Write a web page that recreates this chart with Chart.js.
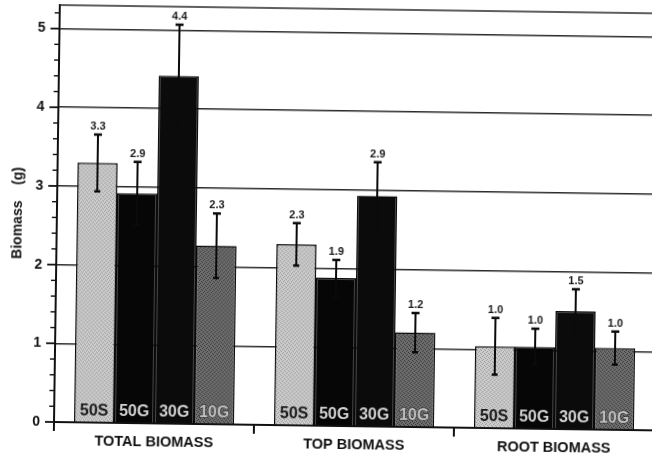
<!DOCTYPE html>
<html>
<head>
<meta charset="utf-8">
<script src="https://cdn.jsdelivr.net/npm/chart.js@4"></script>
<style>
  html, body { margin: 0; padding: 0; background: #fff; }
  #wrap { position: relative; width: 652px; height: 460px; overflow: hidden; background: #fff; }
  #chart { position: absolute; left: 0; top: 0; transform-origin: 54px 422px; transform: rotate(0.8deg); }
</style>
</head>
<body>
<div id="wrap"><canvas id="chart" width="660" height="460"></canvas></div>
<script>
// Biomass groups and treatment series
const categories = ['TOTAL BIOMASS', 'TOP BIOMASS', 'ROOT BIOMASS'];
const seriesNames = ['50S', '50G', '30G', '10G'];

// Mean biomass (g) per treatment, one value per group
const mean50S = [3.3, 2.3, 1.04];
const mean50G = [2.92, 1.88, 1.04];
const mean30G = [4.42, 2.93, 1.5];
const mean10G = [2.27, 1.2, 1.04];

// Half-length of each error bar (g)
const err50S = [0.36, 0.27, 0.36];
const err50G = [0.40, 0.23, 0.23];
const err30G = [0.65, 0.43, 0.28];
const err10G = [0.41, 0.25, 0.21];

// Value axis
const yTickValues = [0, 1, 2, 3, 4, 5];
const yMax = 5.3;
const yMinorStep = 0.2;

const FONT = '"Liberation Sans", Arial, sans-serif';

// Small stippled fill used for the shaded bars
function stipple(base, dot) {
  const c = document.createElement('canvas');
  c.width = 4; c.height = 4;
  const g = c.getContext('2d');
  g.fillStyle = base; g.fillRect(0, 0, 4, 4);
  g.fillStyle = dot;
  g.fillRect(0, 0, 1, 1); g.fillRect(2, 1, 1, 1);
  g.fillRect(1, 2, 1, 1); g.fillRect(3, 3, 1, 1);
  return g.createPattern(c, 'repeat');
}

const fills = [
  stipple('#cdcdcd', '#9a9a9a'),
  '#060606',
  '#0b0b0b',
  stipple('#6e6e6e', '#3a3a3a')
];
const textFills = ['#1a1a1a', '#d0d0d0', '#d0d0d0', '#c0c0c0'];

const means = [mean50S, mean50G, mean30G, mean10G];
const errors = [err50S, err50G, err30G, err10G];

const datasets = seriesNames.map((name, i) => ({
  label: name,
  data: means[i],
  errors: errors[i],
  backgroundColor: fills[i],
  borderColor: '#0a0a0a',
  borderWidth: 1.5,
  categoryPercentage: 0.8,
  barPercentage: 1.0
}));

// Top frame line and the y-axis tick marks (major + minor)
const axisDecor = {
  id: 'axisDecor',
  afterDraw(chart) {
    const { ctx, chartArea, scales: { y } } = chart;
    ctx.save();
    ctx.strokeStyle = '#2a2a2a';
    ctx.lineWidth = 1.6;
    ctx.beginPath();
    ctx.moveTo(chartArea.left, chartArea.top);
    ctx.lineTo(chartArea.right, chartArea.top);
    ctx.stroke();

    ctx.strokeStyle = '#111';
    const steps = Math.floor(yMax / yMinorStep + 1e-6);
    for (let k = 0; k <= steps; k++) {
      const v = k * yMinorStep;
      const major = Math.abs(v - Math.round(v)) < 1e-6;
      const py = y.getPixelForValue(v);
      ctx.lineWidth = major ? 1.8 : 1.4;
      ctx.beginPath();
      ctx.moveTo(chartArea.left, py);
      ctx.lineTo(chartArea.left - (major ? 9 : 5), py);
      ctx.stroke();
    }
    ctx.restore();
  }
};

// Error bars, value labels above them, and series names inside the bars
const barAnnotations = {
  id: 'barAnnotations',
  afterDatasetsDraw(chart) {
    const { ctx, scales: { y } } = chart;
    ctx.save();
    chart.data.datasets.forEach((ds, di) => {
      const meta = chart.getDatasetMeta(di);
      meta.data.forEach((bar, i) => {
        const v = ds.data[i];
        const e = ds.errors[i];
        const yHi = y.getPixelForValue(v + e);
        const yLo = y.getPixelForValue(v - e);
        ctx.strokeStyle = '#0a0a0a';
        ctx.lineWidth = 2;
        ctx.beginPath();
        ctx.moveTo(bar.x, yHi); ctx.lineTo(bar.x, yLo);
        ctx.stroke();
        ctx.lineWidth = 2.5;
        ctx.beginPath();
        ctx.moveTo(bar.x - 4, yHi); ctx.lineTo(bar.x + 4, yHi);
        ctx.moveTo(bar.x - 3, yLo); ctx.lineTo(bar.x + 3, yLo);
        ctx.stroke();

        ctx.fillStyle = '#1a1a1a';
        ctx.font = 'bold 11px ' + FONT;
        ctx.textAlign = 'center';
        ctx.textBaseline = 'alphabetic';
        ctx.fillText(v.toFixed(1), bar.x, yHi - 5);

        ctx.font = 'bold 16px ' + FONT;
        if (di === 3) {
          ctx.strokeStyle = '#2a2a2a';
          ctx.lineWidth = 1;
          ctx.strokeText(ds.label, bar.x, bar.base - 6);
        }
        ctx.fillStyle = textFills[di];
        ctx.fillText(ds.label, bar.x, bar.base - 6);
      });
    });
    ctx.restore();
  }
};

new Chart(document.getElementById('chart'), {
  type: 'bar',
  data: { labels: categories, datasets },
  options: {
    responsive: false,
    animation: false,
    layout: { padding: { top: 5, right: 6, left: 0, bottom: 0 } },
    plugins: { legend: { display: false }, tooltip: { enabled: false } },
    scales: {
      x: {
        afterFit: s => { s.height = 38; },
        grid: { drawOnChartArea: false, offset: true, tickLength: 9, color: '#111', lineWidth: 2 },
        border: { color: '#111', width: 2 },
        ticks: { padding: 1, color: '#111', maxRotation: 0, font: { family: FONT, size: 14.5, weight: 'bold' } }
      },
      y: {
        min: 0,
        max: yMax,
        afterBuildTicks: s => { s.ticks = yTickValues.map(v => ({ value: v })); },
        afterFit: s => { s.width = 54; s.paddingTop = 0; s.paddingBottom = 0; },
        grid: { color: '#2a2a2a', lineWidth: 1.6, drawTicks: false },
        border: { color: '#111', width: 2 },
        ticks: { padding: 14, color: '#111', font: { family: FONT, size: 14, weight: 'bold' } },
        title: {
          display: true,
          text: 'Biomass    (g)',
          color: '#111',
          font: { family: FONT, size: 14, weight: 'bold' },
          padding: { top: 7, bottom: 0 }
        }
      }
    }
  },
  plugins: [axisDecor, barAnnotations]
});
</script>
</body>
</html>
